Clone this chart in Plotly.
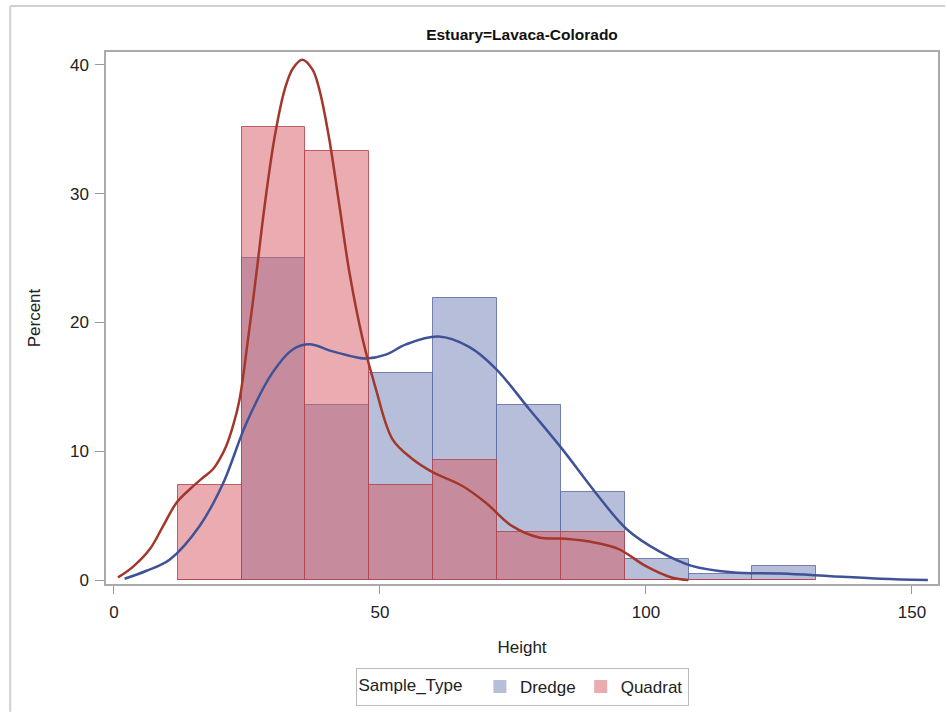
import plotly.graph_objects as go

# Histogram bins (width 12) and percentages per sample type
bin_left = [12, 24, 36, 48, 60, 72, 84, 96, 108, 120]
dredge_pct = [0.0, 25.0, 13.6, 16.1, 21.9, 13.6, 6.8, 1.6, 0.5, 1.1]
quadrat_pct = [7.4, 35.2, 33.3, 7.4, 9.3, 3.7, 3.7, 0.0, 0.0, 0.0]

# Kernel density curves (Height, Percent)
dredge_kde_x = [2.0, 6.0, 10.5, 16.1, 20.5, 24.9, 29.8, 33.6, 36.75, 41.1,
                45.5, 47.4, 51.1, 54.9, 61.0, 66.75, 71.8, 78.0, 84.2, 90.5,
                96.5, 102.6, 108.6, 116.1, 125.4, 134.8, 144.2, 153.0]
dredge_kde_y = [0.1, 0.7, 1.6, 4.2, 7.5, 12.2, 16.1, 17.9, 18.3, 17.75,
                17.3, 17.2, 17.5, 18.3, 18.9, 18.1, 16.4, 13.3, 10.2, 6.8,
                3.9, 2.2, 1.1, 0.6, 0.5, 0.3, 0.1, 0.0]
quadrat_kde_x = [0.75, 3.5, 6.75, 9.25, 11.75, 14.25, 16.75, 18.6, 19.9, 21.1,
                 22.4, 23.6, 25.2, 26.8, 28.3, 30.2, 32.1, 33.6, 35.4, 37.3,
                 38.6, 40.4, 42.4, 44.25, 46.75, 49.25, 52.4, 56.1, 59.8, 65.5,
                 69.9, 74.8, 79.9, 84.9, 90.5, 94.9, 99.9, 104.8, 108.0]
quadrat_kde_y = [0.2, 1.0, 2.4, 4.2, 6.0, 7.05, 7.96, 8.6, 9.4, 10.4,
                 12.0, 14.0, 18.7, 23.9, 29.0, 34.4, 38.1, 39.7, 40.4, 39.65,
                 38.1, 34.4, 29.0, 23.9, 18.7, 14.8, 10.9, 9.4, 8.4, 7.3,
                 6.0, 4.2, 3.3, 3.2, 2.9, 2.4, 1.1, 0.2, 0.0]

x_ticks = [0, 50, 100, 150]
y_ticks = [0, 10, 20, 30, 40]

BLUE_FILL = "rgba(111,126,179,0.5)"
BLUE_EDGE = "rgba(95,110,165,0.85)"
RED_FILL = "rgba(214,90,98,0.5)"
RED_EDGE = "rgba(180,70,78,0.85)"
BLUE_LINE = "#3f5298"
RED_LINE = "#a3372b"

fig = go.Figure()

fig.add_trace(go.Bar(
    x=bin_left, y=dredge_pct, width=12, offset=0,
    marker=dict(color=BLUE_FILL, line=dict(color=BLUE_EDGE, width=1)),
    name="Dredge", showlegend=False,
))
fig.add_trace(go.Bar(
    x=bin_left, y=quadrat_pct, width=12, offset=0,
    marker=dict(color=RED_FILL, line=dict(color=RED_EDGE, width=1)),
    name="Quadrat", showlegend=False,
))
fig.add_trace(go.Scatter(
    x=dredge_kde_x, y=dredge_kde_y, mode="lines",
    line=dict(color=BLUE_LINE, width=2.5, shape="spline", smoothing=1.0),
    showlegend=False, hoverinfo="skip",
))
fig.add_trace(go.Scatter(
    x=quadrat_kde_x, y=quadrat_kde_y, mode="lines",
    line=dict(color=RED_LINE, width=2.5, shape="spline", smoothing=1.0),
    showlegend=False, hoverinfo="skip",
))

# Legend swatches: plain filled squares for each sample type
for name, fill in (("Dredge", BLUE_FILL), ("Quadrat", RED_FILL)):
    fig.add_trace(go.Scatter(
        x=[None], y=[None], mode="markers", name=name,
        marker=dict(symbol="square", size=13, color=fill,
                    line=dict(color="rgba(255,255,255,0)", width=0)),
    ))

axis_font = dict(family="Liberation Sans, Arial, sans-serif", size=17, color="#222")

fig.update_layout(
    width=947, height=713,
    margin=dict(l=106, r=7, t=52, b=128),
    paper_bgcolor="white", plot_bgcolor="white",
    barmode="overlay", bargap=0,
    font=axis_font,
    title=dict(
        text="<b>Estuary=Lavaca-Colorado</b>",
        x=0.5, xref="paper", y=1, yref="paper", yanchor="bottom",
        pad=dict(b=12),
        font=dict(family="Liberation Sans, Arial, sans-serif", size=15.5, color="#111"),
    ),
    xaxis=dict(
        range=[-1.5, 154.9], tickvals=x_ticks, ticks="outside", ticklen=8,
        tickcolor="#999", showline=True, linecolor="#aaa", linewidth=1.5, mirror=True,
        showgrid=False, zeroline=False, ticklabelstandoff=4,
        title=dict(text="Height", standoff=20, font=axis_font),
        tickfont=axis_font,
    ),
    yaxis=dict(
        range=[-0.31, 41.0], tickvals=y_ticks, ticks="outside", ticklen=9,
        tickcolor="#999", showline=True, linecolor="#aaa", linewidth=1.5, mirror=True,
        showgrid=False, zeroline=False, ticklabelstandoff=3,
        title=dict(text="Percent", standoff=25, font=axis_font),
        tickfont=axis_font,
    ),
    legend=dict(
        orientation="h", x=0.5, xanchor="center", y=-0.158, yanchor="top",
        bordercolor="#bbb", borderwidth=1, bgcolor="white",
        title=dict(text="Sample_Type  ", side="left", font=axis_font),
        font=axis_font, itemwidth=30, traceorder="normal",
    ),
    shapes=[
        dict(type="line", xref="paper", yref="paper",
             x0=(10 - 106) / 834, x1=(947 - 106) / 834,
             y0=(585 - 6) / 533, y1=(585 - 6) / 533,
             line=dict(color="#d0d0d0", width=2)),
        dict(type="line", xref="paper", yref="paper",
             x0=(10 - 106) / 834, x1=(10 - 106) / 834,
             y0=(585 - 6) / 533, y1=(585 - 713) / 533,
             line=dict(color="#d0d0d0", width=2)),
    ],
)

fig.write_html("out.html")
